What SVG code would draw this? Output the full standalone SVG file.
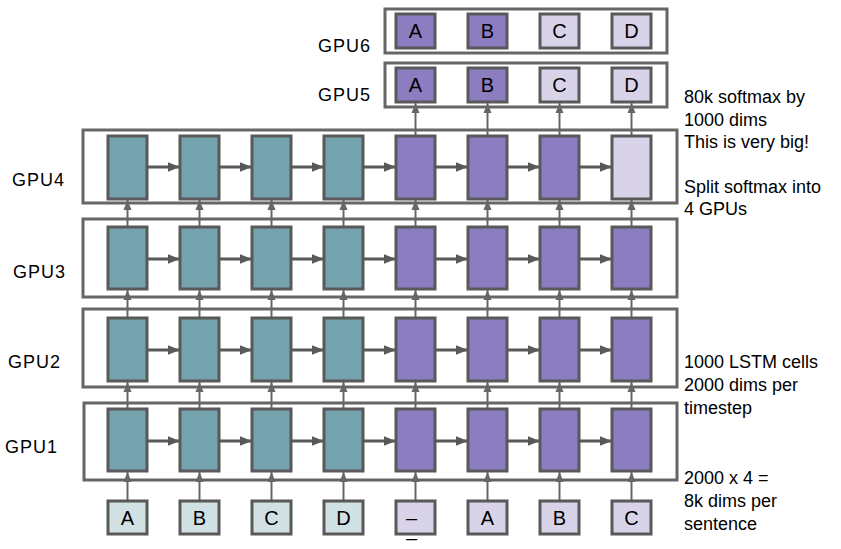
<svg xmlns="http://www.w3.org/2000/svg" width="841" height="549" viewBox="0 0 841 549">
<defs>
<style>
text{font-family:"Liberation Sans",Arial,sans-serif;font-size:18px;fill:#000}
.lbl{letter-spacing:1px}
.mid{text-anchor:middle;font-size:20px}
.layer{fill:none;stroke:#666;stroke-width:3}
.cell{stroke:#595959;stroke-width:3}
.teal{fill:#74a2ad}
.pur{fill:#8b7dc0}
.lpur{fill:#d9d3e9}
.lteal{fill:#d1e0e3}
.h line{stroke:#595959;stroke-width:3;fill:none}
.v line{stroke:#666;stroke-width:2;fill:none}
</style>
<marker id="ah" viewBox="0 0 10 8" refX="10" refY="4" markerWidth="12" markerHeight="10" markerUnits="userSpaceOnUse" orient="auto">
<path d="M0,0 L10,4 L0,8 z" fill="#595959"/>
</marker>
<marker id="av" viewBox="0 0 10 8" refX="10" refY="4" markerWidth="10" markerHeight="9" markerUnits="userSpaceOnUse" orient="auto">
<path d="M0,0 L10,4 L0,8 z" fill="#666"/>
</marker>
</defs>
<rect width="841" height="549" fill="#fff"/>

<g id="labels">
<text class="lbl" x="318" y="52">GPU6</text>
<text class="lbl" x="318" y="101">GPU5</text>
<text class="lbl" x="12" y="186">GPU4</text>
<text class="lbl" x="13" y="278">GPU3</text>
<text class="lbl" x="8" y="368">GPU2</text>
<text class="lbl" x="5" y="453">GPU1</text>
</g>

<g id="notes">
<text x="684" y="103">80k softmax by</text>
<text x="684" y="126">1000 dims</text>
<text x="684" y="148">This is very big!</text>
<text x="684" y="193">Split softmax into</text>
<text x="684" y="215">4 GPUs</text>
<text x="684" y="368">1000 LSTM cells</text>
<text x="684" y="391">2000 dims per</text>
<text x="684" y="414">timestep</text>
<text x="684" y="484">2000 x 4 =</text>
<text x="684" y="507">8k dims per</text>
<text x="684" y="530">sentence</text>
</g>

<g id="gpu6">
<rect class="layer" x="385" y="9" width="282" height="44"/>
<rect class="cell pur" x="396" y="14" width="39" height="34"/><text class="mid" x="415.5" y="38">A</text>
<rect class="cell pur" x="468" y="14" width="39" height="34"/><text class="mid" x="487.5" y="38">B</text>
<rect class="cell lpur" x="540" y="14" width="39" height="34"/><text class="mid" x="559.5" y="38">C</text>
<rect class="cell lpur" x="612" y="14" width="39" height="34"/><text class="mid" x="631.5" y="38">D</text>
</g>

<g id="gpu5">
<rect class="layer" x="385" y="63" width="282" height="44"/>
<rect class="cell pur" x="396" y="68" width="39" height="34"/><text class="mid" x="415.5" y="92">A</text>
<rect class="cell pur" x="468" y="68" width="39" height="34"/><text class="mid" x="487.5" y="92">B</text>
<rect class="cell lpur" x="540" y="68" width="39" height="34"/><text class="mid" x="559.5" y="92">C</text>
<rect class="cell lpur" x="612" y="68" width="39" height="34"/><text class="mid" x="631.5" y="92">D</text>
</g>

<g id="gpu4">
<rect class="layer" x="83" y="130" width="594" height="73"/>
<rect class="cell teal" x="108" y="136" width="39" height="63"/>
<rect class="cell teal" x="180" y="136" width="39" height="63"/>
<rect class="cell teal" x="252" y="136" width="39" height="63"/>
<rect class="cell teal" x="324" y="136" width="39" height="63"/>
<rect class="cell pur" x="396" y="136" width="39" height="63"/>
<rect class="cell pur" x="468" y="136" width="39" height="63"/>
<rect class="cell pur" x="540" y="136" width="39" height="63"/>
<rect class="cell lpur" x="612" y="136" width="39" height="63"/>
</g>

<g id="gpu3">
<rect class="layer" x="83" y="219" width="594" height="78"/>
<rect class="cell teal" x="108" y="227" width="39" height="62"/>
<rect class="cell teal" x="180" y="227" width="39" height="62"/>
<rect class="cell teal" x="252" y="227" width="39" height="62"/>
<rect class="cell teal" x="324" y="227" width="39" height="62"/>
<rect class="cell pur" x="396" y="227" width="39" height="62"/>
<rect class="cell pur" x="468" y="227" width="39" height="62"/>
<rect class="cell pur" x="540" y="227" width="39" height="62"/>
<rect class="cell pur" x="612" y="227" width="39" height="62"/>
</g>

<g id="gpu2">
<rect class="layer" x="83" y="309" width="594" height="78"/>
<rect class="cell teal" x="108" y="318" width="39" height="63"/>
<rect class="cell teal" x="180" y="318" width="39" height="63"/>
<rect class="cell teal" x="252" y="318" width="39" height="63"/>
<rect class="cell teal" x="324" y="318" width="39" height="63"/>
<rect class="cell pur" x="396" y="318" width="39" height="63"/>
<rect class="cell pur" x="468" y="318" width="39" height="63"/>
<rect class="cell pur" x="540" y="318" width="39" height="63"/>
<rect class="cell pur" x="612" y="318" width="39" height="63"/>
</g>

<g id="gpu1">
<rect class="layer" x="84" y="403" width="593" height="77"/>
<rect class="cell teal" x="108" y="409" width="39" height="62"/>
<rect class="cell teal" x="180" y="409" width="39" height="62"/>
<rect class="cell teal" x="252" y="409" width="39" height="62"/>
<rect class="cell teal" x="324" y="409" width="39" height="62"/>
<rect class="cell pur" x="396" y="409" width="39" height="62"/>
<rect class="cell pur" x="468" y="409" width="39" height="62"/>
<rect class="cell pur" x="540" y="409" width="39" height="62"/>
<rect class="cell pur" x="612" y="409" width="39" height="62"/>
</g>

<g id="inputs">
<rect class="cell lteal" x="108" y="501" width="39" height="33"/><text class="mid" x="127.5" y="525">A</text>
<rect class="cell lteal" x="180" y="501" width="39" height="33"/><text class="mid" x="199.5" y="525">B</text>
<rect class="cell lteal" x="252" y="501" width="39" height="33"/><text class="mid" x="271.5" y="525">C</text>
<rect class="cell lteal" x="324" y="501" width="39" height="33"/><text class="mid" x="343.5" y="525">D</text>
<rect class="cell lpur" x="396" y="501" width="39" height="33"/><text class="mid" x="411.5" y="525">–</text>
<text class="mid" x="411.5" y="545">–</text>
<rect class="cell lpur" x="468" y="501" width="39" height="33"/><text class="mid" x="487.5" y="525">A</text>
<rect class="cell lpur" x="540" y="501" width="39" height="33"/><text class="mid" x="559.5" y="525">B</text>
<rect class="cell lpur" x="612" y="501" width="39" height="33"/><text class="mid" x="631.5" y="525">C</text>
</g>

<g id="connectors">
<g class="h" marker-end="url(#ah)">
<line x1="147" y1="167" x2="180" y2="167"/><line x1="219" y1="167" x2="252" y2="167"/><line x1="291" y1="167" x2="324" y2="167"/><line x1="363" y1="167" x2="396" y2="167"/><line x1="435" y1="167" x2="468" y2="167"/><line x1="507" y1="167" x2="540" y2="167"/><line x1="579" y1="167" x2="612" y2="167"/>
<line x1="147" y1="259" x2="180" y2="259"/><line x1="219" y1="259" x2="252" y2="259"/><line x1="291" y1="259" x2="324" y2="259"/><line x1="363" y1="259" x2="396" y2="259"/><line x1="435" y1="259" x2="468" y2="259"/><line x1="507" y1="259" x2="540" y2="259"/><line x1="579" y1="259" x2="612" y2="259"/>
<line x1="147" y1="350" x2="180" y2="350"/><line x1="219" y1="350" x2="252" y2="350"/><line x1="291" y1="350" x2="324" y2="350"/><line x1="363" y1="350" x2="396" y2="350"/><line x1="435" y1="350" x2="468" y2="350"/><line x1="507" y1="350" x2="540" y2="350"/><line x1="579" y1="350" x2="612" y2="350"/>
<line x1="147" y1="441" x2="180" y2="441"/><line x1="219" y1="441" x2="252" y2="441"/><line x1="291" y1="441" x2="324" y2="441"/><line x1="363" y1="441" x2="396" y2="441"/><line x1="435" y1="441" x2="468" y2="441"/><line x1="507" y1="441" x2="540" y2="441"/><line x1="579" y1="441" x2="612" y2="441"/>
</g>
<g class="v" marker-end="url(#av)">
<line x1="127.5" y1="500" x2="127.5" y2="472"/><line x1="199.5" y1="500" x2="199.5" y2="472"/><line x1="271.5" y1="500" x2="271.5" y2="472"/><line x1="343.5" y1="500" x2="343.5" y2="472"/><line x1="415.5" y1="500" x2="415.5" y2="472"/><line x1="487.5" y1="500" x2="487.5" y2="472"/><line x1="559.5" y1="500" x2="559.5" y2="472"/><line x1="631.5" y1="500" x2="631.5" y2="472"/>
<line x1="127.5" y1="408" x2="127.5" y2="382"/><line x1="199.5" y1="408" x2="199.5" y2="382"/><line x1="271.5" y1="408" x2="271.5" y2="382"/><line x1="343.5" y1="408" x2="343.5" y2="382"/><line x1="415.5" y1="408" x2="415.5" y2="382"/><line x1="487.5" y1="408" x2="487.5" y2="382"/><line x1="559.5" y1="408" x2="559.5" y2="382"/><line x1="631.5" y1="408" x2="631.5" y2="382"/>
<line x1="127.5" y1="317" x2="127.5" y2="290"/><line x1="199.5" y1="317" x2="199.5" y2="290"/><line x1="271.5" y1="317" x2="271.5" y2="290"/><line x1="343.5" y1="317" x2="343.5" y2="290"/><line x1="415.5" y1="317" x2="415.5" y2="290"/><line x1="487.5" y1="317" x2="487.5" y2="290"/><line x1="559.5" y1="317" x2="559.5" y2="290"/><line x1="631.5" y1="317" x2="631.5" y2="290"/>
<line x1="127.5" y1="226" x2="127.5" y2="200"/><line x1="199.5" y1="226" x2="199.5" y2="200"/><line x1="271.5" y1="226" x2="271.5" y2="200"/><line x1="343.5" y1="226" x2="343.5" y2="200"/><line x1="415.5" y1="226" x2="415.5" y2="200"/><line x1="487.5" y1="226" x2="487.5" y2="200"/><line x1="559.5" y1="226" x2="559.5" y2="200"/><line x1="631.5" y1="226" x2="631.5" y2="200"/>
<line x1="415.5" y1="135" x2="415.5" y2="103"/><line x1="487.5" y1="135" x2="487.5" y2="103"/><line x1="559.5" y1="135" x2="559.5" y2="103"/><line x1="631.5" y1="135" x2="631.5" y2="103"/>
</g>
</g>
</svg>
